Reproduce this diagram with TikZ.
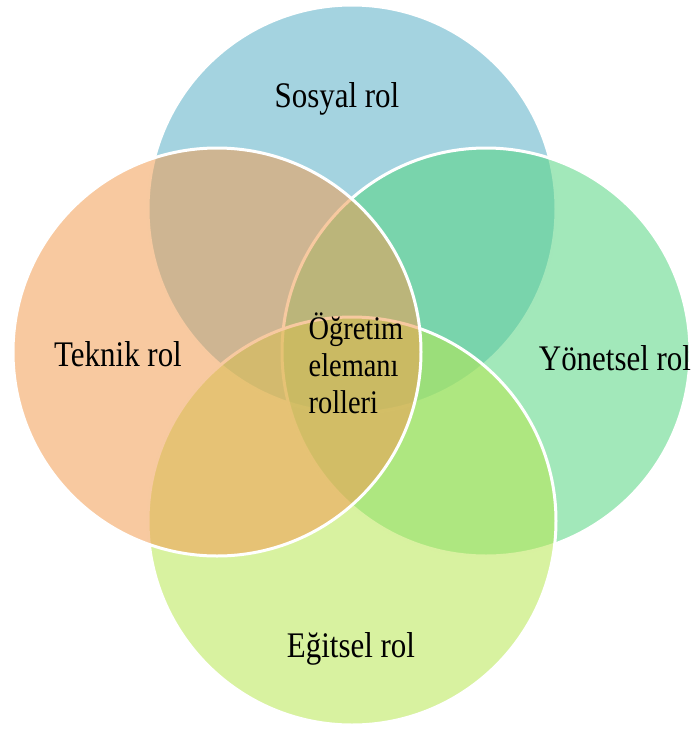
\documentclass[tikz,border=0pt]{standalone}
\usepackage{fontspec}
\setmainfont{Liberation Serif}[FakeStretch=0.86]
\definecolor{sosyal}{RGB}{90,175,199}
\definecolor{yonetsel}{RGB}{86,213,130}
\definecolor{egitsel}{RGB}{184,231,82}
\definecolor{teknik}{RGB}{242,157,82}

\begin{document}
\begin{tikzpicture}[x=1pt,y=-1pt,
    role/.style={shape=circle,draw=white,line width=3pt,fill opacity=0.55,minimum size=408pt,inner sep=0pt},
    rolename/.style={font=\fontsize{36}{42}\selectfont,inner sep=0pt}]
    \useasboundingbox (0,0) rectangle (691,734);
    % circles, drawn clockwise from the top
    \node[role,fill=sosyal] (sosyal) at (352,209) {};
    \node[role,fill=yonetsel] (yonetsel) at (486,352) {};
    \node[role,fill=egitsel] (egitsel) at (352,521) {};
    \node[role,fill=teknik] (teknik) at (217,352) {};
    % texts
    \node[rolename,anchor=base] (sosyaltext) at (337,107) {Sosyal rol};
    \node[rolename,anchor=base] (yonetseltext) at (615,370) {Yönetsel rol};
    \node[rolename,anchor=base] (egitseltext) at (351,657) {Eğitsel rol};
    \node[rolename,anchor=base] (teknikltext) at (118,366) {Teknik rol};
    \node[font=\fontsize{33}{37}\selectfont,align=left,inner sep=0pt] (merkez) at (356,363) {Öğretim\\elemanı\\rolleri};
\end{tikzpicture}
\end{document}
